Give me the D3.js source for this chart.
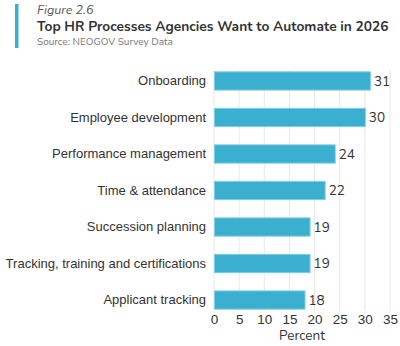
<!DOCTYPE html>
<html>
<head>
<meta charset="utf-8">
<script src="https://cdn.jsdelivr.net/npm/d3@7"></script>
<style>
  body { margin: 0; background: #fff; }
  svg { font-family: "Nunito", "Lato", "Open Sans", sans-serif; }
</style>
</head>
<body>
<svg id="chart" width="400" height="346"></svg>
<script>
var categories = ["Onboarding", "Employee development", "Performance management", "Time & attendance",
  "Succession planning", "Tracking, training and certifications", "Applicant tracking"];
var values = [31, 30, 24, 22, 19, 19, 18];
var xTicks = [0, 5, 10, 15, 20, 25, 30, 35];

var svg = d3.select("#chart"),
    margin = {left: 214, right: 10, top: 70, bottom: 35};

// shrink a text's font until it fits the width the reference gives it
function fitText(sel, maxW) {
  sel.each(function () {
    var t = d3.select(this), fs = parseFloat(t.attr("font-size"));
    while (this.getComputedTextLength() > maxW && fs > 6) {
      fs -= 0.25;
      t.attr("font-size", fs);
    }
  });
}

var x = d3.scaleLinear().domain([0, 35]).range([margin.left, 390]);
var y = d3.scaleBand().domain(categories).range([margin.top, 311]).paddingInner(0.5).paddingOuter(0.05);

// header
svg.append("rect").attr("x", 15).attr("y", 4).attr("width", 3.5).attr("height", 44).attr("fill", "#3aafcf");
svg.append("text").attr("x", 37).attr("y", 13.5).attr("font-size", 12.5).attr("font-style", "italic")
  .attr("fill", "#555").text("Figure 2.6").call(fitText, 58);
svg.append("text").attr("x", 37).attr("y", 31).attr("font-size", 14.5).attr("font-weight", "bold")
  .attr("fill", "#333").text("Top HR Processes Agencies Want to Automate in 2026").call(fitText, 354);
svg.append("text").attr("x", 37).attr("y", 44.5).attr("font-size", 10).attr("fill", "#777")
  .text("Source: NEOGOV Survey Data").call(fitText, 140);

// grid
svg.append("g").selectAll("line").data(xTicks).enter().append("line")
  .attr("x1", function (d) { return x(d); }).attr("x2", function (d) { return x(d); })
  .attr("y1", 70).attr("y2", 311)
  .attr("stroke", "#e8e8e8").attr("stroke-width", 1);

// bars
var rows = categories.map(function (c, i) { return {cat: c, val: values[i]}; });
svg.append("g").selectAll("rect").data(rows).enter().append("rect")
  .attr("x", x(0) + 0.5)
  .attr("y", function (d) { return y(d.cat); })
  .attr("width", function (d) { return x(d.val) - x(0); })
  .attr("height", y.bandwidth())
  .attr("fill", "#3aafcf").attr("stroke", "#7fcde2").attr("stroke-width", 1);

// value labels
svg.append("g").selectAll("text").data(rows).enter().append("text")
  .attr("x", function (d) { return x(d.val) + 4; })
  .attr("y", function (d) { return y(d.cat) + y.bandwidth() / 2; })
  .attr("dy", "0.35em").attr("font-size", 13.5).attr("fill", "#333")
  .text(function (d) { return d.val; });

// category axis
var yAxis = svg.append("g").attr("transform", "translate(" + (margin.left - 8) + ",0)")
  .call(d3.axisLeft(y).tickSize(0).tickPadding(0));
yAxis.select(".domain").remove();
yAxis.selectAll("text").attr("font-size", 13.5).attr("fill", "#333").attr("font-family", null);
var longest = yAxis.selectAll("text").filter(function (d) { return d === categories[5]; });
longest.call(fitText, 202);
yAxis.selectAll("text").attr("font-size", longest.attr("font-size"));

// x axis
var xAxis = svg.append("g").attr("transform", "translate(0,311)")
  .call(d3.axisBottom(x).tickValues(xTicks).tickSize(0).tickPadding(3));
xAxis.select(".domain").remove();
xAxis.selectAll("text").attr("font-size", 13.5).attr("fill", "#333").attr("font-family", null);

svg.append("text").attr("x", (x(0) + x(35)) / 2).attr("y", 340).attr("text-anchor", "middle")
  .attr("font-size", 13.5).attr("fill", "#333").text("Percent");
</script>
</body>
</html>
